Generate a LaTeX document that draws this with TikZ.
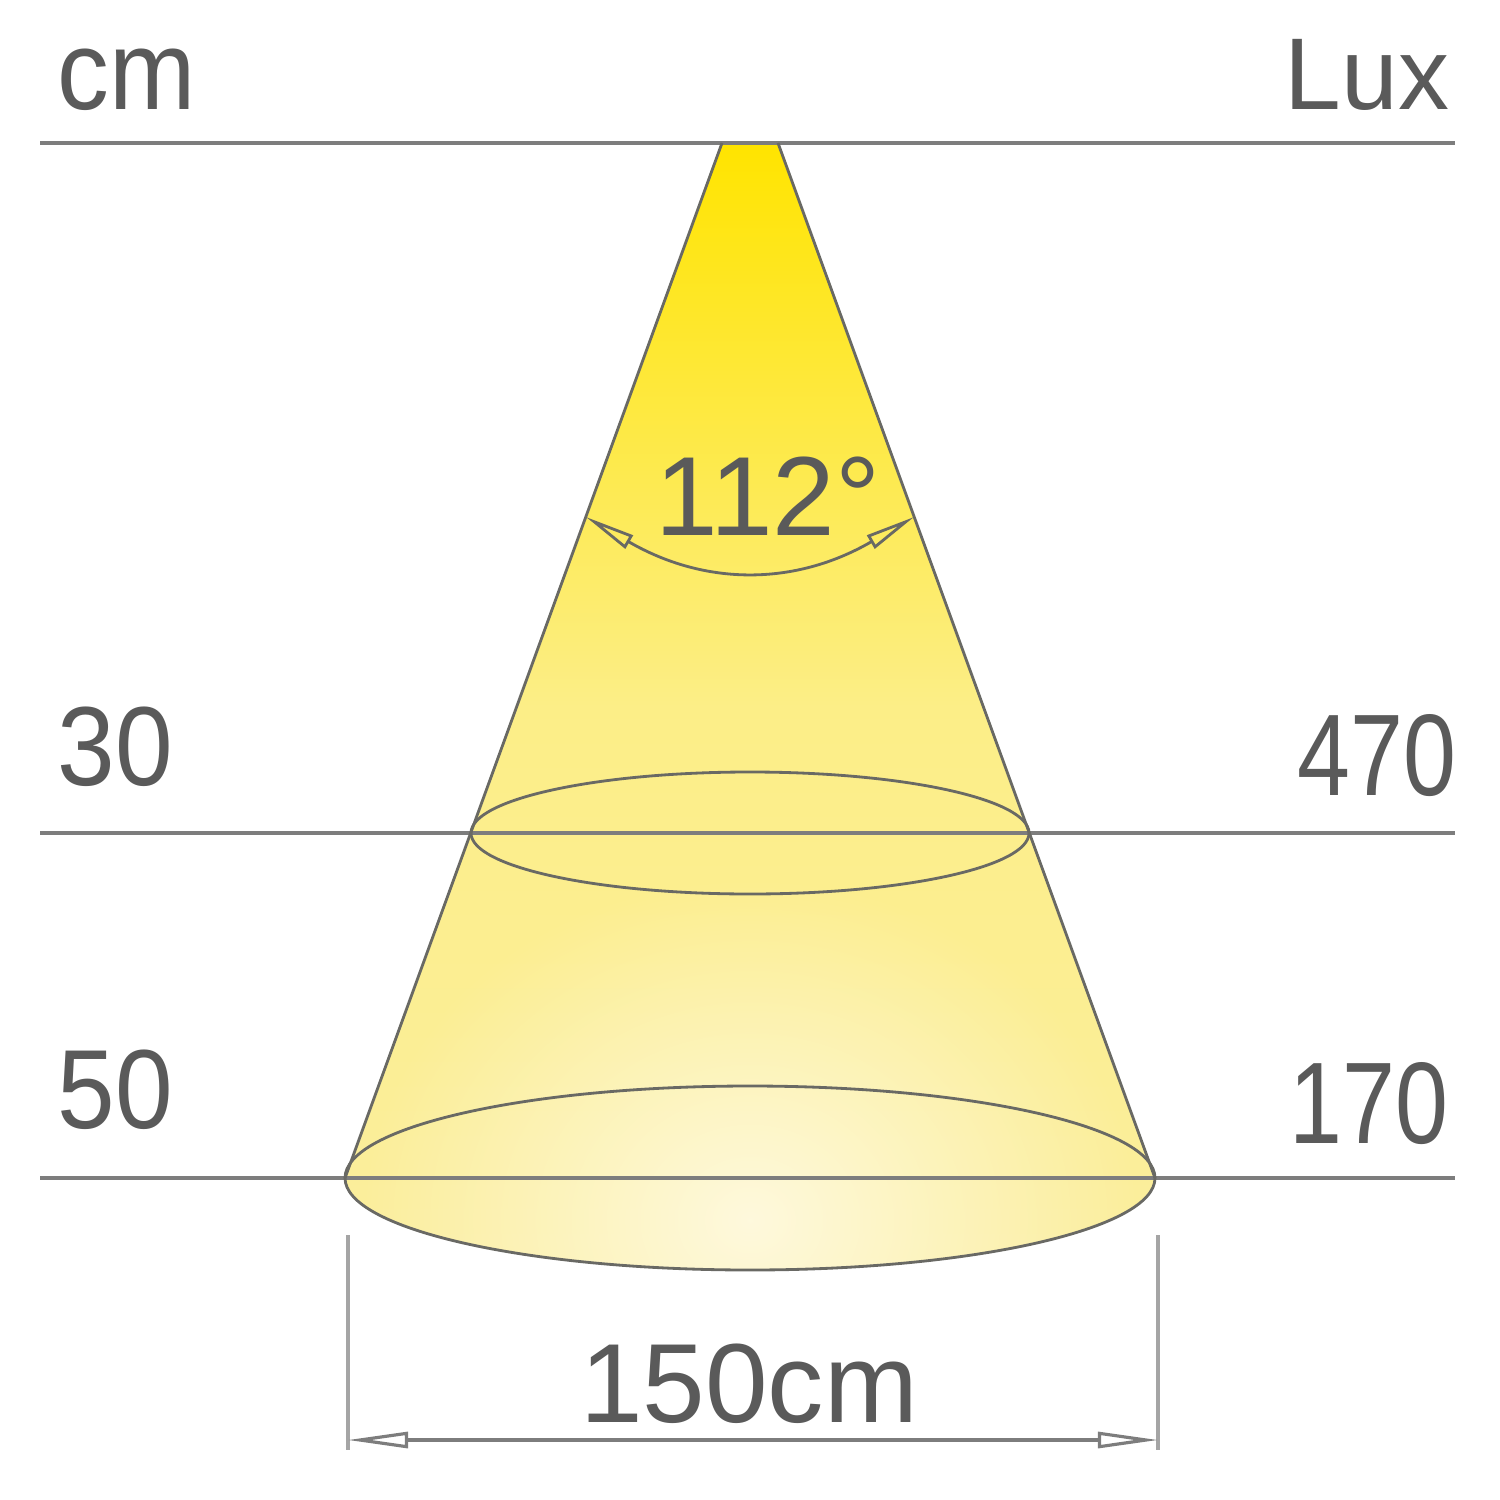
\documentclass[tikz,border=0pt]{standalone}
\usepackage{fontspec}
\setmainfont{Liberation Sans}
\newfontfamily\leftfont[FakeStretch=0.92]{Liberation Sans}
\newfontfamily\rightfont[FakeStretch=0.82]{Liberation Sans}
\usetikzlibrary{
	arrows.meta,
	fadings
}
\definecolor{lineGray}{RGB}{125,125,125}
\definecolor{edgeGray}{RGB}{105,105,100}
\definecolor{dimGray}{RGB}{165,165,165}
\definecolor{textGray}{RGB}{90,90,90}
\definecolor{beamTop}{RGB}{255,228,0}
\definecolor{beamMid}{RGB}{252,238,135}
\definecolor{beamLow}{RGB}{251,238,158}
\definecolor{beamPale}{RGB}{255,251,232}
\tikzfading[name=glow fade, inner color=transparent!0, outer color=transparent!100]
\tikzset{
	level line/.style={
		draw=lineGray,
		line width=0.9pt
	},
	beam edge/.style={
		draw=edgeGray,
		line width=0.8pt
	},
	dim line/.style={
		draw=dimGray,
		line width=0.9pt
	},
	value label/.style={
		text=textGray,
		inner sep=0pt
	},
	left value/.style={
		value label,
		anchor=base west,
		font=\leftfont\fontsize{32}{38}\selectfont
	},
	right value/.style={
		value label,
		anchor=base east,
		font=\rightfont\fontsize{33}{40}\selectfont
	},
	angle arrows/.style={
		{Triangle[open, length=0.5cm, width=0.15cm]}-{Triangle[open, length=0.5cm, width=0.15cm]}
	},
	width arrows/.style={
		{Triangle[open, length=0.6cm, width=0.16cm]}-{Triangle[open, length=0.6cm, width=0.16cm]}
	}
}

\begin{document}
\begin{tikzpicture}[x=0.01cm, y=-0.01cm]
	\useasboundingbox (0,0) rectangle (1500,1500);
	% cone
	\coordinate (apexL) at (722,143);
	\coordinate (apexR) at (778,143);
	\coordinate (midL) at (471,833);
	\coordinate (midR) at (1029,833);
	\coordinate (baseL) at (345,1178);
	\coordinate (baseR) at (1155,1178);
	\shade[top color=beamTop, bottom color=beamLow, middle color=beamMid]
		(apexL) -- (apexR) -- (baseR)
		arc[start angle=0, end angle=180, x radius=405, y radius=92] -- cycle;
	\begin{scope}
		\clip (apexL) -- (apexR) -- (baseR)
			arc[start angle=0, end angle=180, x radius=405, y radius=92] -- cycle;
		\fill[beamPale, fill opacity=0.85, path fading=glow fade] (750,1220) ellipse [x radius=390, y radius=340];
	\end{scope}
	% levels
	\coordinate (topStart) at (40,143);
	\coordinate (topEnd) at (1455,143);
	\coordinate (midStart) at (40,833);
	\coordinate (midEnd) at (1455,833);
	\coordinate (lowStart) at (40,1178);
	\coordinate (lowEnd) at (1455,1178);
	\draw[level line] (topStart) -- (topEnd);
	\draw[level line] (midStart) -- (midEnd);
	\draw[level line] (lowStart) -- (lowEnd);
	\draw[beam edge] (750,833) ellipse [x radius=279, y radius=61];
	\draw[beam edge] (750,1178) ellipse [x radius=405, y radius=92];
	\draw[beam edge] (apexL) -- (baseL);
	\draw[beam edge] (apexR) -- (baseR);
	% labels
	\node[left value] (unitCm) at (57,110) {cm};
	\node[value label, anchor=base east, font=\fontsize{29}{35}\selectfont] (unitLux) at (1450,110) {Lux};
	\node[left value] (dist30) at (57,785) {30};
	\node[left value] (dist50) at (57,1128) {50};
	\node[right value] (lux470) at (1457,795) {470};
	\node[right value] (lux170) at (1449,1143) {170};
	% beam angle
	\coordinate (angleL) at (586,517);
	\coordinate (angleR) at (914,517);
	\draw[beam edge, angle arrows] (angleL) .. controls (705,586) and (795,586) .. (angleR);
	\node[value label, anchor=base, font=\fontsize{32}{38}\selectfont] (beamAngle) at (768,535) {112°};
	% width
	\coordinate (extLtop) at (348,1235);
	\coordinate (extLbot) at (348,1450);
	\coordinate (extRtop) at (1158,1235);
	\coordinate (extRbot) at (1158,1450);
	\coordinate (dimL) at (348,1440);
	\coordinate (dimR) at (1158,1440);
	\draw[dim line] (extLtop) -- (extLbot);
	\draw[dim line] (extRtop) -- (extRbot);
	\draw[dim line, draw=lineGray, width arrows] (dimL) -- (dimR);
	\node[value label, anchor=base, font=\fontsize{32}{38}\selectfont] (beamWidth) at (749,1422) {150cm};
\end{tikzpicture}
\end{document}
